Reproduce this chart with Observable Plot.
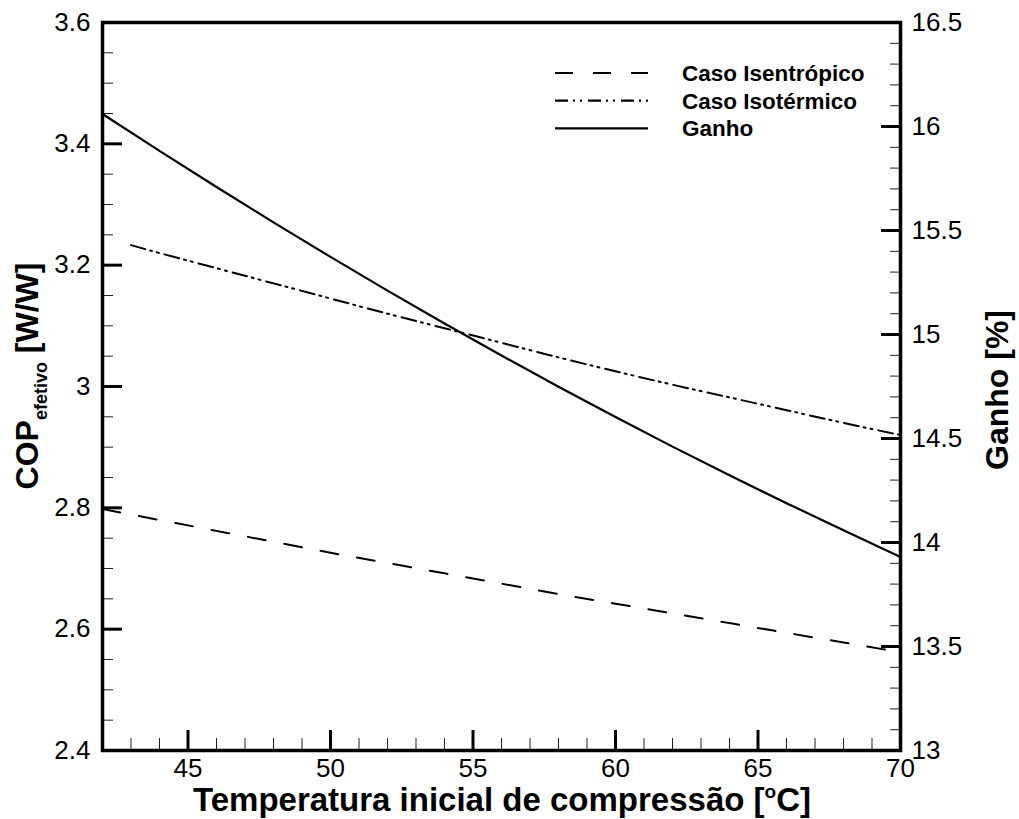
<!DOCTYPE html>
<html>
<head>
<meta charset="utf-8">
<script src="https://cdn.jsdelivr.net/npm/d3@7"></script>
<script src="https://cdn.jsdelivr.net/npm/@observablehq/plot@0.6"></script>
<style>
  html, body { margin: 0; padding: 0; background: #fff; }
  #wrap { position: relative; width: 1019px; height: 819px; }
  #legend { position: absolute; left: 0; top: 0; }
</style>
</head>
<body>
<div id="wrap"></div>
<script>
// ---- data ----
const temps = [42, 44, 46, 48, 50, 52, 54, 56, 58, 60, 62, 64, 66, 68, 70];
const copIsentropico = [2.798, 2.780, 2.762, 2.744, 2.726, 2.709, 2.692, 2.675, 2.658, 2.642, 2.626, 2.610, 2.594, 2.578, 2.562];
const tempsIsotermico = [43, 44, 46, 48, 50, 52, 54, 56, 58, 60, 62, 64, 66, 68, 70];
const copIsotermico = [3.233, 3.220, 3.195, 3.170, 3.145, 3.120, 3.096, 3.072, 3.048, 3.025, 3.003, 2.982, 2.961, 2.940, 2.920];
const ganhoPct = [16.06, 15.883, 15.709, 15.539, 15.373, 15.211, 15.053, 14.899, 14.749, 14.603, 14.461, 14.323, 14.189, 14.059, 13.93];

const xTicks = [45, 50, 55, 60, 65, 70];
const leftTicks = [2.4, 2.6, 2.8, 3.0, 3.2, 3.4, 3.6];
const rightTicks = [13, 13.5, 14, 14.5, 15, 15.5, 16, 16.5];
const seriesNames = ["Caso Isentrópico", "Caso Isotérmico", "Ganho"];

// ---- scales ----
const xDomain = [42, 70];
const leftDomain = [2.4, 3.6];
const rightDomain = [13, 16.5];
const toLeft = g => leftDomain[0] + (g - rightDomain[0]) / (rightDomain[1] - rightDomain[0]) * (leftDomain[1] - leftDomain[0]);
const toRight = v => rightDomain[0] + (v - leftDomain[0]) / (leftDomain[1] - leftDomain[0]) * (rightDomain[1] - rightDomain[0]);
const fmt = v => String(+v.toFixed(2));

const isenData = temps.map((t, i) => ({t, v: copIsentropico[i]}));
const isoData = tempsIsotermico.map((t, i) => ({t, v: copIsotermico[i]}));
const ganhoData = temps.map((t, i) => ({t, v: toLeft(ganhoPct[i])}));

const xMinor = d3.range(43, 70, 1).filter(v => v % 5 !== 0);
const leftMinor = d3.range(0, 25).map(i => +(2.4 + i * 0.05).toFixed(2)).filter(v => Math.round(v * 100) % 20 !== 0);
const rightMinor = d3.range(0, 36).map(i => +(13 + i * 0.1).toFixed(1)).filter(v => Math.round(v * 10) % 5 !== 0).map(toLeft);

const dashIsen = "18,19";
const dashIso = "15,5,2,5,2,6";
const font = "'Liberation Sans', Arial, Helvetica, sans-serif";

const chart = Plot.plot({
  width: 1019,
  height: 819,
  marginLeft: 102,
  marginRight: 119,
  marginTop: 22,
  marginBottom: 69,
  x: {domain: xDomain},
  y: {domain: leftDomain},
  style: {fontFamily: font, fontSize: "26px", color: "black", background: "white", overflow: "visible"},
  marks: [
    // minor ticks (inward)
    Plot.axisX(xMinor, {anchor: "bottom", tickSize: 12, insetBottom: 12, fill: "none", stroke: "#222", strokeWidth: 1, label: null, tickFormat: () => ""}),
    Plot.axisY(leftMinor, {anchor: "left", tickSize: 11, insetLeft: 11, fill: "none", stroke: "#222", strokeWidth: 1, label: null, tickFormat: () => ""}),
    Plot.axisY(rightMinor, {anchor: "right", tickSize: 11, insetRight: 11, fill: "none", stroke: "#222", strokeWidth: 1, label: null, tickFormat: () => ""}),
    // major ticks (inward)
    Plot.axisX(xTicks, {anchor: "bottom", tickSize: 20, insetBottom: 20, fill: "none", stroke: "black", strokeWidth: 3, label: null, tickFormat: () => ""}),
    Plot.axisY(leftTicks, {anchor: "left", tickSize: 20, insetLeft: 20, fill: "none", stroke: "black", strokeWidth: 3, label: null, tickFormat: () => ""}),
    Plot.axisY(rightTicks.map(toLeft), {anchor: "right", tickSize: 20, insetRight: 20, fill: "none", stroke: "black", strokeWidth: 3, label: null, tickFormat: () => ""}),
    // tick labels
    Plot.axisX(xTicks, {anchor: "bottom", tickSize: 0, tickPadding: 8, label: null, tickFormat: fmt, fontSize: 26}),
    Plot.axisY(leftTicks, {anchor: "left", tickSize: 0, tickPadding: 12, label: null, tickFormat: fmt, fontSize: 26}),
    Plot.axisY(rightTicks.map(toLeft), {anchor: "right", tickSize: 0, tickPadding: 11, label: null, tickFormat: v => fmt(toRight(v)), fontSize: 26}),
    // series
    Plot.line(isenData, {x: "t", y: "v", stroke: "black", strokeWidth: 2, strokeDasharray: dashIsen, curve: "natural"}),
    Plot.line(isoData, {x: "t", y: "v", stroke: "black", strokeWidth: 2, strokeDasharray: dashIso, curve: "natural"}),
    Plot.line(ganhoData, {x: "t", y: "v", stroke: "black", strokeWidth: 2.2, curve: "natural"}),
    Plot.frame({stroke: "black", strokeWidth: 3.5})
  ]
});

const wrap = document.getElementById("wrap");
wrap.appendChild(chart);

// ---- axis titles ----
const svg = d3.select(chart);

const xt = svg.append("text")
  .attr("x", 502).attr("y", 811)
  .attr("text-anchor", "middle")
  .attr("font-family", font).attr("font-weight", "bold").attr("font-size", 33).attr("fill", "black");
xt.append("tspan").text("Temperatura inicial de compressão [");
xt.append("tspan").attr("font-size", 19).attr("dy", -13).text("o");
xt.append("tspan").attr("dy", 13).text("C]");

const yt = svg.append("text")
  .attr("transform", "translate(38,376) rotate(-90)")
  .attr("text-anchor", "middle")
  .attr("font-family", font).attr("font-weight", "bold").attr("font-size", 32).attr("fill", "black");
yt.append("tspan").text("COP");
yt.append("tspan").attr("font-size", 18).attr("dy", 9).text("efetivo");
yt.append("tspan").attr("dy", -9).text(" [W/W]");

svg.append("text")
  .attr("transform", "translate(1008,390) rotate(-90)")
  .attr("text-anchor", "middle")
  .attr("font-family", font).attr("font-weight", "bold").attr("font-size", 32).attr("fill", "black")
  .text("Ganho [%]");

// ---- legend (overlay) ----
const leg = d3.select(wrap).append("svg")
  .attr("id", "legend").attr("width", 1019).attr("height", 819)
  .style("pointer-events", "none");
const legDash = ["18,20", "13,5,2,5,2,6", null];
seriesNames.forEach((name, i) => {
  const y = 73 + i * 27.7;
  const ln = leg.append("line")
    .attr("x1", 555).attr("x2", 648).attr("y1", y).attr("y2", y)
    .attr("stroke", "black").attr("stroke-width", 2.2);
  if (legDash[i]) ln.attr("stroke-dasharray", legDash[i]);
  leg.append("text")
    .attr("x", 682).attr("y", y + 8)
    .attr("font-family", font).attr("font-weight", "bold").attr("font-size", 22.5).attr("fill", "black")
    .text(name);
});
</script>
</body>
</html>
